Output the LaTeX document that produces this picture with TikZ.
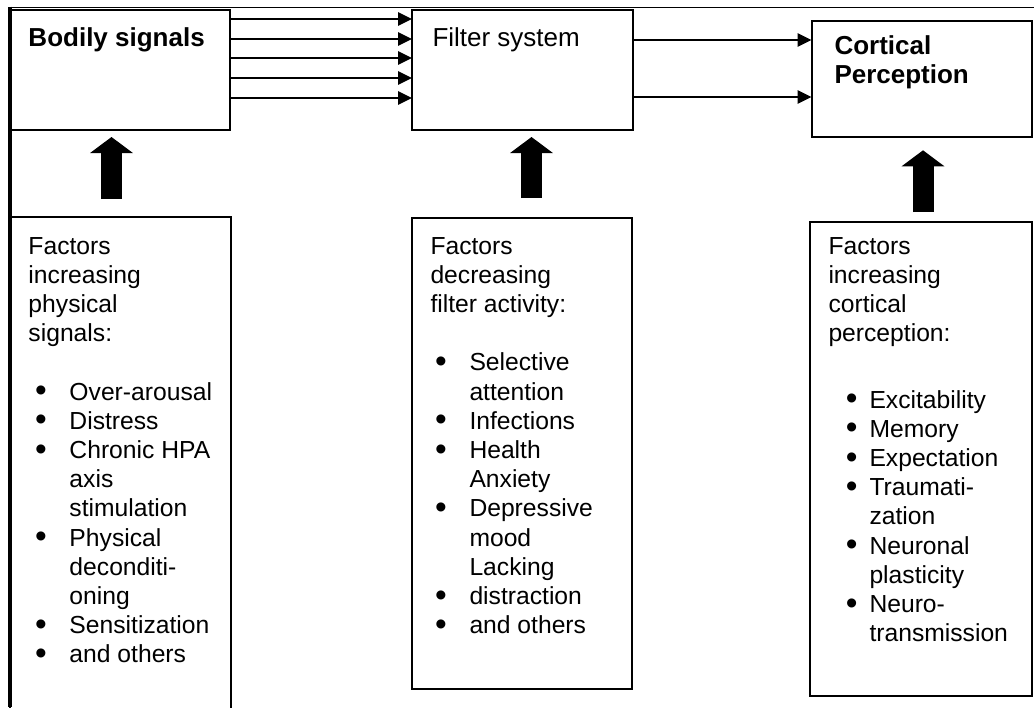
\documentclass[tikz,border=0pt]{standalone}
\usepackage{fontspec}
\setmainfont{Liberation Sans}
\usetikzlibrary{arrows.meta}

\newcommand{\factline}[1]{\multicolumn{2}{@{}l@{}}{#1}}
\newcommand{\dotmark}{\smash{\raisebox{-1.2pt}{\fontsize{25pt}{21.9pt}\selectfont\textbullet}}}

\tikzset{every picture/.style={line width=0.75pt}}
\tikzset{
	stage/.style={draw, line width=1.5pt, inner sep=0pt, outer sep=0pt, anchor=north west},
	body text/.style={anchor=base west, inner sep=0pt, font=\fontsize{18.5pt}{21.9pt}\selectfont},
	head text/.style={anchor=base west, inner sep=0pt, font=\fontsize{19.5pt}{21.9pt}\selectfont},
	signal/.style={line width=1.5pt, -{Triangle[length=10.5pt,width=10pt]}},
	push/.style={line width=15.75pt, -{Triangle[length=12pt,width=31.5pt]}}}

\begin{document}
\begin{tikzpicture}[x=0.75pt,y=0.75pt,yscale=-1,xscale=1]
	\useasboundingbox (0,0) rectangle (1034,707);

	%Frame lines
	\draw [line width=1.2pt] (10,7.5) -- (1034,7.5) ;
	\draw [line width=3pt] (9.5,6.5) -- (9.5,707) ;

	%Shape: Rectangle [bodily signals]
	\node [stage, minimum width=165pt, minimum height=90pt] (bodily) at (10,10) {};
	%Shape: Rectangle [filter system]
	\node [stage, minimum width=165.4pt, minimum height=90pt] (filter) at (412,10) {};
	%Shape: Rectangle [cortical perception]
	\node [stage, minimum width=165.4pt, minimum height=87pt] (cortical) at (811.5,21) {};
	%Shape: Rectangle [factors, bottom row]
	\node [stage, minimum width=165.75pt, minimum height=375pt] (bodfac) at (10,217) {};
	\node [stage, minimum width=165pt, minimum height=353.6pt] (filfac) at (412,217.5) {};
	\node [stage, minimum width=166.5pt, minimum height=355.5pt] (corfac) at (809.5,222) {};

	%Straight Lines [signals]
	\foreach \y in {19,39,58,78,98}
		\draw [signal] (bodily.east |- 0,\y) -- (filter.west |- 0,\y) ;
	\foreach \y in {40,97}
		\draw [signal] (filter.east |- 0,\y) -- (cortical.west |- 0,\y) ;

	%Block arrows
	\draw [push] (bodfac.north -| 111.5,0) ++(0,-18) -- ++(0,-62) ;
	\draw [push] (filfac.north -| 531.5,0) ++(0,-19.5) -- ++(0,-61) ;
	\draw [push] (corfac.north -| 923,0) ++(0,-10) -- ++(0,-61.7) ;

	% Text Node
	\node [head text, font=\fontsize{19.5pt}{21.9pt}\selectfont\bfseries] (bodlab) at (28,46) {Bodily signals};
	% Text Node
	\node [head text] (fillab) at (432,46) {Filter system};
	% Text Node
	\node [head text, font=\fontsize{19.5pt}{21.9pt}\selectfont\bfseries] (corlab) at (834,54)
		{\begin{tabular}[t]{@{}l@{}}Cortical\\Perception\end{tabular}};

	% Text Node
	\node [body text] (bodfactxt) at (28,254) {\begin{tabular}[t]{@{\hspace{5pt}}p{25.75pt}@{}l@{}}
		\factline{Factors}\\
		\factline{increasing}\\
		\factline{physical}\\
		\factline{signals:}\\[21.9pt]
		\dotmark & Over-arousal\\
		\dotmark & Distress\\
		\dotmark & Chronic HPA\\
		& axis\\
		& stimulation\\
		\dotmark & Physical\\
		& deconditi-\\
		& oning\\
		\dotmark & Sensitization\\
		\dotmark & and others
	\end{tabular}};
	% Text Node
	\node [body text] (filfactxt) at (430,254) {\begin{tabular}[t]{@{\hspace{3.5pt}}p{25.75pt}@{}l@{}}
		\factline{Factors}\\
		\factline{decreasing}\\
		\factline{filter activity:}\\[21.9pt]
		\dotmark & Selective\\
		& attention\\
		\dotmark & Infections\\
		\dotmark & Health\\
		& Anxiety\\
		\dotmark & Depressive\\
		& mood\\
		& Lacking\\
		\dotmark & distraction\\
		\dotmark & and others
	\end{tabular}};
	% Text Node
	\node [body text] (corfactxt) at (828,254) {\begin{tabular}[t]{@{\hspace{13pt}}p{17.75pt}@{}l@{}}
		\factline{Factors}\\
		\factline{increasing}\\
		\factline{cortical}\\
		\factline{perception:}\\[28pt]
		\dotmark & Excitability\\
		\dotmark & Memory\\
		\dotmark & Expectation\\
		\dotmark & Traumati-\\
		& zation\\
		\dotmark & Neuronal\\
		& plasticity\\
		\dotmark & Neuro-\\
		& transmission
	\end{tabular}};

\end{tikzpicture}
\end{document}
